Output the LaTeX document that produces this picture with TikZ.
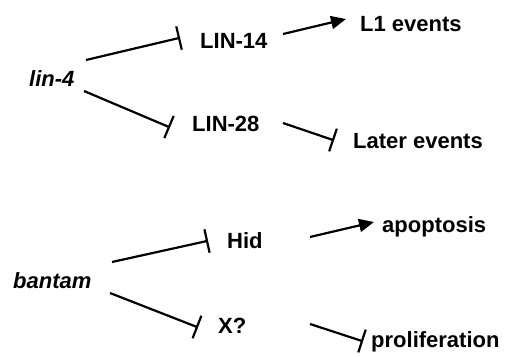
\documentclass[tikz,border=0pt]{standalone}
\usepackage{fontspec}
\setmainfont{Liberation Sans}
\usetikzlibrary{arrows.meta,calc}
\begin{document}
\begin{tikzpicture}[x=1pt,y=-1pt,
  lbl/.style={anchor=base west,inner sep=0pt,font=\fontsize{22}{26}\selectfont\bfseries},
  ilbl/.style={lbl,font=\fontsize{22}{26}\selectfont\bfseries\itshape},
  ln/.style={line width=2.2pt},
  act/.style={ln,-{Triangle[length=15pt,width=13pt]}}]
\useasboundingbox (0,0) rectangle (505,356);
\node[ilbl] (lin4) at (29,86) {lin-4};
\node[lbl] (lin14) at (200,48) {LIN-14};
\node[lbl] (l1) at (360,31) {L1 events};
\node[lbl] (lin28) at (192,131) {LIN-28};
\node[lbl] (later) at (353,148) {Later events};
\node[ilbl] (bantam) at (13,288) {bantam};
\node[lbl] (hid) at (227,248) {Hid};
\node[lbl] (apop) at (382,232) {apoptosis};
\node[lbl] (xq) at (218,333) {X?};
\node[lbl] (prolif) at (371,347) {proliferation};
% end points of the inhibition connectors
\coordinate (a1) at ([shift={(57,-26)}]lin4.base west);
\coordinate (b1) at ([shift={(-21,-10)}]lin14.base west);
\coordinate (a2) at ([shift={(55,5)}]lin4.base west);
\coordinate (b2) at ([shift={(-23,-4)}]lin28.base west);
\coordinate (a3) at ([shift={(91,-8)}]lin28.base west);
\coordinate (b3) at ([shift={(-20,-8)}]later.base west);
\coordinate (a4) at ([shift={(99,-26)}]bantam.base west);
\coordinate (b4) at ([shift={(-20,-7)}]hid.base west);
\coordinate (a5) at ([shift={(97,5)}]bantam.base west);
\coordinate (b5) at ([shift={(-21,-6)}]xq.base west);
\coordinate (a6) at ([shift={(92,-9)}]xq.base west);
\coordinate (b6) at ([shift={(-9,-6)}]prolif.base west);
\foreach \i in {1,...,6}{
  \draw[ln] (a\i) -- (b\i);
  \draw[ln] ($(b\i)!12pt!90:(a\i)$) -- ($(b\i)!12pt!-90:(a\i)$);
}
\draw[act] ([shift={(83,-14)}]lin14.base west) -- ([shift={(-14,-12)}]l1.base west);
\draw[act] ([shift={(83,-11)}]hid.base west) -- ([shift={(-8,-10)}]apop.base west);
\end{tikzpicture}
\end{document}
